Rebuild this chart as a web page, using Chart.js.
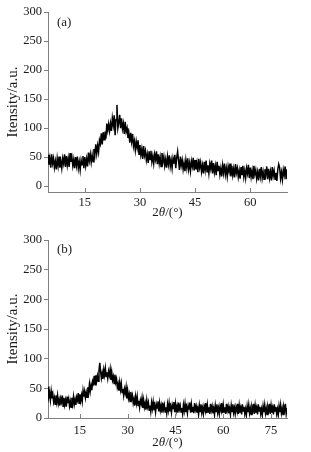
<!DOCTYPE html>
<html>
<head>
<meta charset="utf-8">
<script src="https://cdn.jsdelivr.net/npm/chart.js@4"></script>
<style>
  html, body { margin: 0; padding: 0; background: #fff; }
  #wrap { width: 311px; height: 452px; }
  canvas { display: block; }
</style>
</head>
<body>
<div id="wrap">
  <canvas id="chartA" width="311" height="220"></canvas>
  <canvas id="chartB" width="311" height="232"></canvas>
</div>
<script>
// 2θ sampling of the scans (degrees)
const startA = 5, stepA = 0.25;
const startB = 5, stepB = 0.25;

// (a) intensity, 5° .. 70°, four readings per degree
const intensityA = [
  54, 37, 48, 32,   55, 39, 48, 32,   43, 29, 48, 35,   51, 32, 43, 31,   48, 39, 55, 33,
  52, 36, 48, 33,   57, 42, 50, 35,   46, 31, 50, 36,   51, 31, 42, 28,   45, 37, 52, 31,
  50, 35, 47, 34,   58, 44, 55, 41,   54, 42, 64, 54,   72, 56, 70, 59,   79, 73, 91, 72,
  93, 80, 94, 82,   108, 96, 107, 95, 108, 95, 117, 105, 122, 88, 115, 140, 100, 109, 123, 100,
  117, 99, 108, 90, 111, 94, 100, 83, 91, 75, 92, 77,   90, 69, 78, 62,   77, 66, 79, 55,
  71, 54, 64, 47,   69, 53, 61, 45,   55, 40, 60, 46,   61, 42, 52, 39,   55, 46, 60, 38,
  55, 39, 50, 34,   57, 42, 51, 35,   46, 32, 51, 38,   53, 34, 45, 31,   48, 39, 54, 31,
  49, 60, 44, 28,   51, 36, 45, 29,   40, 26, 45, 32,   48, 29, 40, 26,   43, 34, 49, 27,
  45, 29, 40, 24,   47, 32, 41, 25,   36, 22, 42, 28,   44, 25, 36, 22,   39, 30, 44, 22,
  40, 24, 35, 19,   42, 27, 35, 20,   31, 17, 36, 23,   39, 20, 31, 17,   34, 25, 39, 17,
  35, 19, 30, 15,   38, 23, 31, 16,   27, 13, 33, 19,   35, 16, 27, 14,   31, 22, 37, 14,
  32, 16, 27, 12,   35, 20, 28, 13,   24, 10, 30, 17,   33, 14, 25, 12,   29, 20, 34, 12,
  30, 14, 25, 10,   33, 18, 27, 12,   23, 9, 29, 38,    32, 13, 24, 11,   28, 19, 34, 12,
  29
];

// (b) intensity, 5° .. 80°, four readings per degree
const intensityB = [
  53, 36, 42, 30,   45, 33, 40, 27,   34, 23, 38, 27,   38, 24, 31, 21,   33, 27, 38, 20,
  34, 22, 30, 19,   36, 25, 32, 20,   28, 18, 34, 24,   36, 23, 31, 22,   35, 30, 42, 25,
  40, 29, 38, 28,   46, 36, 45, 34,   43, 35, 52, 43,   57, 45, 55, 47,   62, 58, 71, 56,
  72, 62, 71, 62,   80, 93, 78, 67,   76, 66, 81, 72,   84, 70, 77, 67,   79, 72, 82, 64,
  77, 64, 70, 58,   73, 60, 66, 52,   58, 46, 60, 48,   58, 43, 49, 38,   49, 42, 52, 33,
  46, 33, 40, 28,   44, 32, 38, 25,   32, 21, 36, 25,   36, 21, 29, 18,   30, 24, 34, 17,
  30, 18, 25, 14,   30, 19, 26, 13,   21, 11, 26, 16,   27, 13, 21, 10,   23, 17, 28, 11,
  25, 13, 21, 9,    26, 15, 22, 10,   18, 8, 23, 13,    25, 11, 19, 9,    22, 16, 27, 10,
  24, 12, 20, 9,    26, 15, 21, 10,   17, 7, 22, 12,    24, 10, 18, 8,    21, 15, 26, 9,
  23, 11, 19, 8,    25, 14, 20, 9,    16, 6, 21, 11,    23, 9, 17, 7,     20, 14, 25, 8,
  22, 10, 18, 7,    24, 13, 20, 8,    16, 6, 21, 11,    23, 9, 17, 7,     20, 14, 25, 8,
  22, 10, 18, 7,    24, 13, 20, 8,    16, 6, 21, 11,    23, 9, 17, 7,     19, 13, 24, 7,
  21, 9, 17, 6,     23, 12, 19, 7,    15, 5, 20, 10,    22, 8, 16, 6,     19, 13, 24, 7,
  21, 9, 17, 6,     23, 12, 19, 7,    15, 5, 20, 10,    22, 8, 16, 6,     19, 13, 24, 7,
  21, 9, 17, 6,     23, 12, 19, 7,    15, 5, 20, 10,    22, 8, 16, 6,     19, 13, 24, 7,
  17
];

const yTicks = [0, 50, 100, 150, 200, 250, 300];
const xTicksA = [15, 30, 45, 60];
const xTicksB = [15, 30, 45, 60, 75];

const SERIF = '"Liberation Serif", "Times New Roman", serif';
const AXIS = '#808080';
const INK = '#1a1a1a';

// inner x ticks, panel letter and the 2θ/(°) title
const decor = {
  id: 'decor',
  afterDraw(chart, args, o) {
    const { ctx, chartArea: a, scales: { x } } = chart;
    ctx.save();
    ctx.strokeStyle = AXIS;
    ctx.lineWidth = 1;
    o.xTicks.forEach(v => {
      const px = Math.round(x.getPixelForValue(v)) + 0.5;
      ctx.beginPath();
      ctx.moveTo(px, a.bottom);
      ctx.lineTo(px, a.bottom - 4);
      ctx.stroke();
    });

    ctx.fillStyle = INK;
    ctx.textBaseline = 'middle';
    ctx.font = '13px ' + SERIF;
    ctx.fillText(o.letter, a.left + 9, a.top + o.letterDy);

    const parts = [['2', ''], ['θ', 'italic '], ['/(°)', '']];
    let w = 0;
    parts.forEach(p => { ctx.font = p[1] + '13px ' + SERIF; w += ctx.measureText(p[0]).width; });
    let cx = (a.left + a.right) / 2 - w / 2;
    parts.forEach(p => {
      ctx.font = p[1] + '13px ' + SERIF;
      ctx.fillText(p[0], cx, o.titleY);
      cx += ctx.measureText(p[0]).width;
    });
    ctx.restore();
  }
};

function points(start, step, vals) {
  return vals.map((v, i) => ({ x: start + i * step, y: v }));
}

function makeChart(id, data, xmin, xmax, ymin, xTicks, plotTop, xAxisH, tickPad, letterDy, titleY) {
  return new Chart(document.getElementById(id), {
    type: 'line',
    data: {
      datasets: [{
        data: data,
        borderColor: '#000',
        borderWidth: 1.5,
        pointRadius: 0,
        tension: 0
      }]
    },
    options: {
      responsive: false,
      animation: false,
      layout: { padding: { top: plotTop, right: 24, left: 0, bottom: 0 } },
      plugins: {
        legend: { display: false },
        tooltip: { enabled: false },
        decor: { xTicks: xTicks, letter: id === 'chartA' ? '(a)' : '(b)', letterDy: letterDy, titleY: titleY }
      },
      scales: {
        x: {
          type: 'linear',
          min: xmin,
          max: xmax,
          afterBuildTicks: s => { s.ticks = xTicks.map(v => ({ value: v })); },
          afterFit: s => { s.height = xAxisH; },
          border: { color: AXIS, width: 1 },
          grid: { drawOnChartArea: false, drawTicks: false },
          ticks: { color: INK, padding: tickPad, maxRotation: 0, font: { family: SERIF, size: 12.5 } }
        },
        y: {
          min: ymin,
          max: 300,
          afterBuildTicks: s => { s.ticks = yTicks.map(v => ({ value: v })); },
          afterFit: s => { s.width = 48; },
          border: { color: AXIS, width: 1 },
          grid: { drawOnChartArea: false, drawTicks: true, tickLength: 4, color: AXIS },
          ticks: { color: INK, padding: 2, font: { family: SERIF, size: 12.5 } },
          title: {
            display: true,
            text: 'Itensity/a.u.',
            color: INK,
            padding: { top: 4, bottom: 0 },
            font: { family: SERIF, size: 15 }
          }
        }
      }
    },
    plugins: [decor]
  });
}

makeChart('chartA', points(startA, stepA, intensityA), 5, 70, -10, xTicksA, 12, 28, 3, 11, 213);
makeChart('chartB', points(startB, stepB, intensityB), 5, 80, 0, xTicksB, 20, 34, 5, 10, 223);
</script>
</body>
</html>
